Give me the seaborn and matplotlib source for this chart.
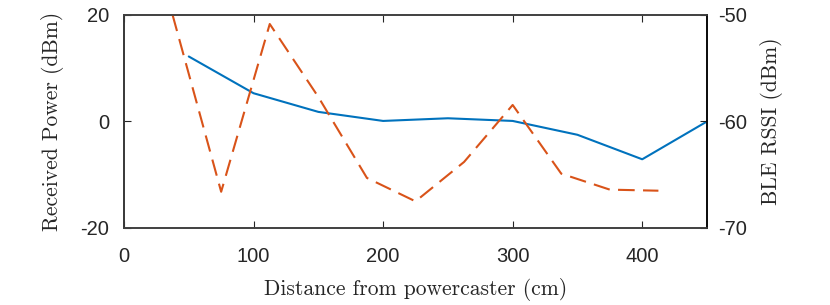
import matplotlib
matplotlib.use('Agg')
import matplotlib.pyplot as plt
import seaborn as sns
import pandas as pd

# received power (left axis)
distance = [50, 100, 150, 200, 250, 300, 350, 400, 450]
power = [12.2, 5.3, 1.8, 0.1, 0.6, 0.1, -2.5, -7.1, 0.0]

# BLE RSSI (right axis)
rssi_distance = [37.5, 75, 112.5, 150, 187.5, 225, 262.5, 300, 337.5, 375, 412.5]
rssi = [-50.0, -66.6, -50.85, -57.7, -65.3, -67.5, -63.8, -58.45, -64.9, -66.4, -66.5]

df_power = pd.DataFrame({'distance': distance, 'power': power})
df_rssi = pd.DataFrame({'distance': rssi_distance, 'rssi': rssi})

sns.set_style('ticks')
plt.rcParams['font.family'] = ['Liberation Sans', 'DejaVu Sans']
plt.rcParams['axes.unicode_minus'] = False

text_col = '#262626'
label_font = 'cmr10'

fig = plt.figure(figsize=(8.3, 3.05), dpi=100)
ax = fig.add_axes([0.1494, 0.2525, 0.7024, 0.6985])

sns.lineplot(data=df_power, x='distance', y='power', ax=ax,
             color='#0072BD', lw=1.5)
ax2 = ax.twinx()
sns.lineplot(data=df_rssi, x='distance', y='rssi', ax=ax2,
             color='#D95319', lw=1.5, linestyle=(0, (8, 4)))

ax.set_xlim(0, 450)
ax.set_ylim(-20, 20)
ax2.set_ylim(-70, -50)
ax.set_xticks([0, 100, 200, 300, 400])
ax.set_yticks([-20, 0, 20])
ax2.set_yticks([-70, -60, -50])

ax.tick_params(axis='x', direction='in', length=5, top=True, labelsize=14.5,
               pad=14, colors=text_col)
ax.tick_params(axis='y', direction='in', length=5, right=False, labelsize=14.5,
               pad=10.5, colors=text_col)
ax2.tick_params(axis='y', direction='in', length=5, labelsize=14.5,
                pad=8, colors=text_col)

for a in (ax, ax2):
    for s in a.spines.values():
        s.set_linewidth(1.2)
        s.set_color('#404040')
ax.spines['left'].set_color('black')
ax2.spines['right'].set_color('black')

ax.set_xlabel('Distance from powercaster (cm)', fontfamily=label_font,
              fontsize=15.5, color=text_col, va='center')
ax.set_ylabel('Received Power (dBm)', fontfamily=label_font,
              fontsize=15.5, color=text_col, va='center')
ax2.set_ylabel('BLE RSSI (dBm)', fontfamily=label_font,
               fontsize=15.5, color=text_col, va='center')
ax.xaxis.set_label_coords(0.5, -0.29)
ax.yaxis.set_label_coords(-0.1235, 0.5)
ax2.yaxis.set_label_coords(1.1115, 0.5)

fig.savefig('out.png', dpi=100)
